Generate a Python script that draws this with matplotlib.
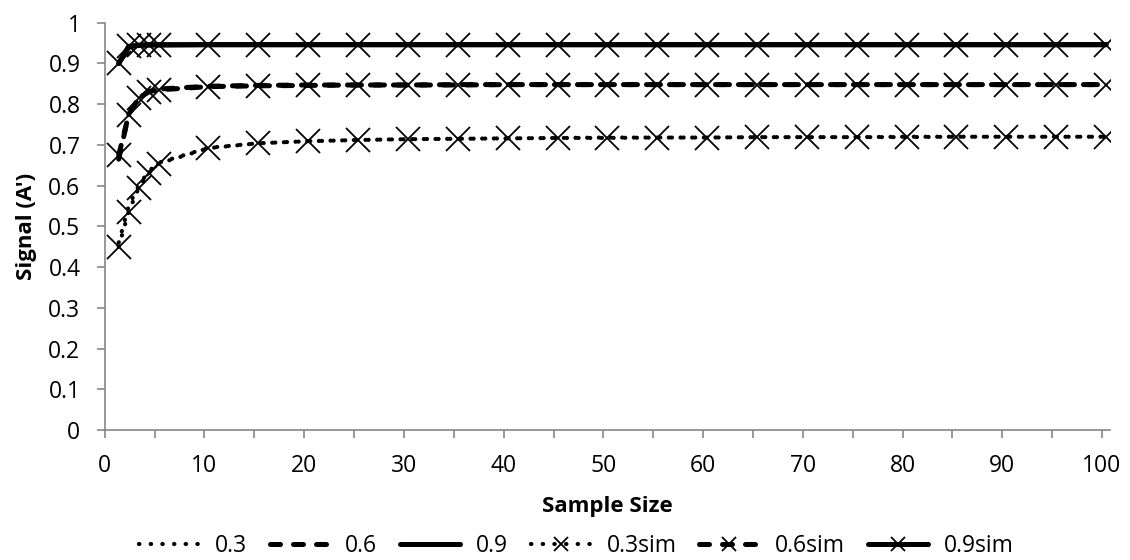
import matplotlib
matplotlib.use("Agg")
import matplotlib.pyplot as plt
from matplotlib.ticker import MultipleLocator, FuncFormatter

plt.rcParams['font.family'] = ['Open Sans', 'DejaVu Sans']
plt.rcParams['lines.dash_capstyle'] = 'round'
plt.rcParams['lines.solid_capstyle'] = 'round'

# Data
sample_size = [1, 2, 3, 4, 5, 10, 15, 20, 25, 30, 35, 40, 45, 50, 55, 60, 65, 70,
               75, 80, 85, 90, 95, 100]
x_shift = 0.4  # markers sit slightly right of the tick positions in the reference

theory_03 = [0.46, 0.55, 0.60, 0.635, 0.656, 0.693, 0.704, 0.709, 0.712, 0.714, 0.715,
             0.716, 0.717, 0.717, 0.718, 0.718, 0.719, 0.719, 0.719, 0.719, 0.72, 0.72,
             0.72, 0.72]
theory_06 = [0.665, 0.775, 0.815, 0.830, 0.837, 0.844, 0.846, 0.847, 0.847, 0.847, 0.848,
             0.848, 0.848, 0.848, 0.848, 0.848, 0.848, 0.848, 0.848, 0.848, 0.848, 0.848,
             0.848, 0.848]
theory_09 = [0.90, 0.940, 0.945, 0.946, 0.946, 0.946, 0.946, 0.946, 0.946, 0.946, 0.946,
             0.946, 0.946, 0.946, 0.946, 0.946, 0.946, 0.946, 0.946, 0.946, 0.946, 0.946,
             0.946, 0.946]
sim_03 = [0.45, 0.536, 0.594, 0.631, 0.654, 0.692, 0.704, 0.709, 0.712, 0.714, 0.715,
          0.716, 0.717, 0.718, 0.718, 0.718, 0.719, 0.719, 0.719, 0.72, 0.72, 0.72,
          0.72, 0.72]
sim_06 = [0.675, 0.774, 0.815, 0.831, 0.835, 0.843, 0.845, 0.846, 0.847, 0.847, 0.847,
          0.848, 0.848, 0.848, 0.848, 0.848, 0.848, 0.848, 0.848, 0.848, 0.848, 0.848,
          0.848, 0.848]
sim_09 = [0.90, 0.942, 0.944, 0.945, 0.945, 0.946, 0.946, 0.946, 0.946, 0.946, 0.946,
          0.946, 0.946, 0.946, 0.946, 0.946, 0.946, 0.946, 0.946, 0.946, 0.946, 0.946,
          0.946, 0.946]

series_labels = ['0.3', '0.6', '0.9', '0.3sim', '0.6sim', '0.9sim']
x_label = 'Sample Size'
y_label = "Signal (A')"

FS = 16.5
LFS = 16
fig = plt.figure(figsize=(11.3, 5.6), dpi=100)
ax = fig.add_axes([0.0927, 0.2321, 0.8896, 0.7274])

xs = [s + x_shift for s in sample_size]

dotted = (0, (0.1, 2.7))
dashed = (0, (2.0, 2.6))

ax.plot(xs, theory_03, color='black', lw=3.0, ls=dotted, label=series_labels[0])
ax.plot(xs, theory_06, color='black', lw=3.6, ls=dashed, label=series_labels[1])
ax.plot(xs, theory_09, color='black', lw=3.6, ls='-', label=series_labels[2])
mk = dict(marker='x', ms=17, mew=1.3, mec='black')
ax.plot(xs, sim_03, color='black', lw=3.0, ls=dotted, label=series_labels[3], **mk)
ax.plot(xs, sim_06, color='black', lw=3.6, ls=dashed, label=series_labels[4], **mk)
ax.plot(xs, sim_09, color='black', lw=3.6, ls='-', label=series_labels[5], **mk)

ax.set_xlim(0, 100.8)
ax.set_ylim(0, 1)
ax.xaxis.set_major_locator(MultipleLocator(10))
ax.xaxis.set_minor_locator(MultipleLocator(5))
ax.yaxis.set_major_locator(MultipleLocator(0.1))
ax.yaxis.set_major_formatter(FuncFormatter(lambda v, p: f'{v:.1f}'.rstrip('0').rstrip('.') if v else '0'))

for s in ['top', 'right']:
    ax.spines[s].set_visible(False)
for s in ['left', 'bottom']:
    ax.spines[s].set_color('#868686')
    ax.spines[s].set_linewidth(1.2)

ax.tick_params(axis='both', which='both', direction='out', length=5.5, width=1.2,
               color='#868686', labelsize=FS, labelcolor='black', pad=12)
ax.tick_params(axis='y', which='minor', left=False)

ax.set_xlabel(x_label, fontsize=LFS, fontweight='bold', labelpad=13)
ax.set_ylabel(y_label, fontsize=LFS, fontweight='bold', labelpad=8)

fig.legend(loc='center', bbox_to_anchor=(0.51, 0.025), ncol=6, frameon=False,
           fontsize=FS, handlelength=2.6, handletextpad=0.7, columnspacing=1.0,
           markerscale=0.6)

fig.savefig('out.png', dpi=100)
